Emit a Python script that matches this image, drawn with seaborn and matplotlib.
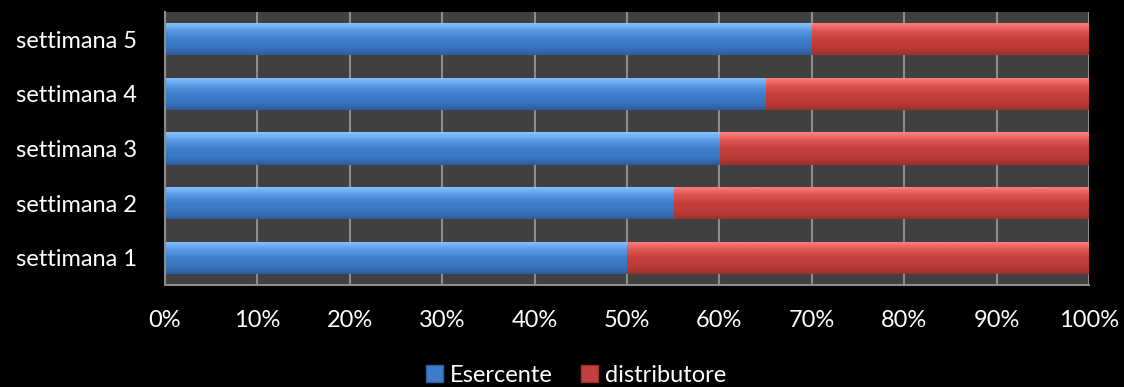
import matplotlib
matplotlib.use("Agg")
import matplotlib.pyplot as plt
import seaborn as sns
import numpy as np
import pandas as pd
from matplotlib.colors import LinearSegmentedColormap
from matplotlib.ticker import PercentFormatter
from matplotlib.patches import Patch

categories = ["settimana 1", "settimana 2", "settimana 3", "settimana 4", "settimana 5"]
esercente = [50, 55, 60, 65, 70]
distributore = [50, 45, 40, 35, 30]
series_names = ["Esercente", "distributore"]
xticks = [0, 10, 20, 30, 40, 50, 60, 70, 80, 90, 100]

sns.set_theme(style="dark")
plt.rcParams["font.family"] = ["Lato", "DejaVu Sans"]

df = pd.DataFrame({"cat": categories, "Esercente": esercente, "distributore": distributore})
df["total"] = df["Esercente"] + df["distributore"]
order = categories[::-1]

fig = plt.figure(figsize=(11.24, 3.87), dpi=100, facecolor="black")
ax = fig.add_axes([165/1124, 1-285/387, (1089-165)/1124, (285-12)/387])
ax.set_facecolor("#404040")

sns.barplot(data=df, y="cat", x="total", order=order, color="#C0403C", width=0.59,
            ax=ax, orient="h", saturation=1, edgecolor="none", linewidth=0)
n = len(ax.patches)
sns.barplot(data=df, y="cat", x="Esercente", order=order, color="#3D7CC9", width=0.59,
            ax=ax, orient="h", saturation=1, edgecolor="none", linewidth=0)
if ax.get_legend() is not None:
    ax.get_legend().remove()

red_cmap = LinearSegmentedColormap.from_list("r", ["#FF8480", "#E05652", "#C4403C", "#BC3B37", "#9E302D"])
blue_cmap = LinearSegmentedColormap.from_list("b", ["#8CC4FF", "#5A9AE6", "#3F7FCC", "#3A76C2", "#2D5E9E"])
grad = np.linspace(0, 1, 64).reshape(-1, 1)
for i, p in enumerate(list(ax.patches)):
    cmap = red_cmap if i < n else blue_cmap
    extra = 0.5 if i >= n else 0
    x0, y0 = p.get_x(), p.get_y()
    w, h = p.get_width(), p.get_height()
    p.set_zorder(p.get_zorder() + extra)
    im = ax.imshow(grad, cmap=cmap, aspect="auto",
                   extent=(x0, x0 + w, y0 + h, y0), zorder=p.get_zorder() + 0.1,
                   interpolation="bicubic")
    im.set_clip_path(p)

ax.set_xlim(0, 100)
ax.set_ylim(4.5, -0.5)
ax.set_xticks(xticks)
ax.xaxis.set_major_formatter(PercentFormatter(decimals=0))
ax.grid(axis="x", color="#8C8C8C", linewidth=1.5)
ax.grid(axis="y", visible=False)
ax.set_axisbelow(True)
for s in ["top", "right"]:
    ax.spines[s].set_visible(False)
for s in ["left", "bottom"]:
    ax.spines[s].set_visible(True)
    ax.spines[s].set_color("#8C8C8C")
    ax.spines[s].set_linewidth(1.5)
ax.set_xlabel("")
ax.set_ylabel("")
ax.tick_params(axis="both", colors="white", labelsize=17, length=0)
ax.tick_params(axis="x", pad=18)
ax.tick_params(axis="y", pad=20)

handles = [Patch(facecolor="#3D7CC9", edgecolor="#2D5E9E"), Patch(facecolor="#C4403C", edgecolor="#9E302D")]
fig.legend(handles, series_names, loc="center", bbox_to_anchor=(576/1124, 1-375/387), ncol=2,
           frameon=False, fontsize=17, handlelength=0.7, handleheight=0.7, handletextpad=0.3,
           columnspacing=1.2, labelcolor="white")

fig.savefig("out.png", dpi=100, facecolor="black")
